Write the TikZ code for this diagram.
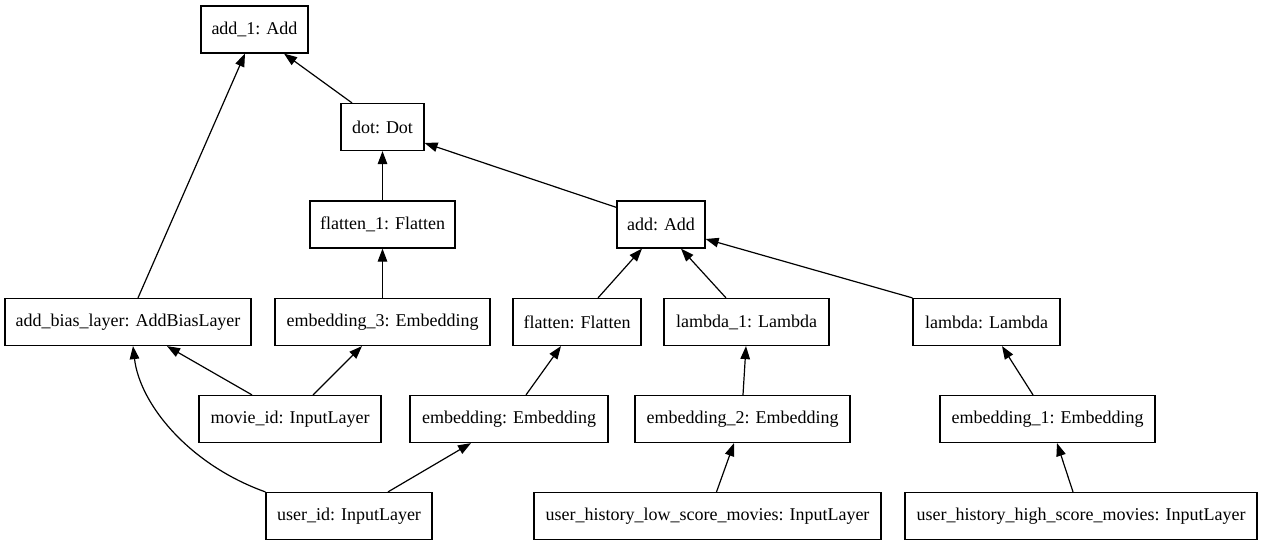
\documentclass[tikz,border=0pt]{standalone}
\usepackage{fontspec}
\setmainfont{Liberation Serif}
\usetikzlibrary{arrows.meta}
\tikzset{
  layer/.style={draw, line width=1.2pt, inner sep=0pt, minimum height=47pt, font=\fontsize{18}{21}\selectfont},
  arr/.style={line width=1.2pt, -{Triangle[length=13pt,width=9.5pt]}}
}
\begin{document}
\begin{tikzpicture}[x=1pt,y=-1pt]
\useasboundingbox (0,0) rectangle (1262,547);
\node[layer, minimum width=107pt] (add1) at (254.5,29.5) {add\_1: Add};
\node[layer, minimum width=83pt] (dot) at (382.5,127) {dot: Dot};
\node[layer, minimum width=145pt] (flatten1) at (382.5,224.5) {flatten\_1: Flatten};
\node[layer, minimum width=88pt] (add) at (661,224.5) {add: Add};
\node[layer, minimum width=246pt] (addbias) at (128,322) {add\_bias\_layer: AddBiasLayer};
\node[layer, minimum width=215pt] (emb3) at (382.5,322) {embedding\_3: Embedding};
\node[layer, minimum width=128pt] (flatten) at (577,322) {flatten: Flatten};
\node[layer, minimum width=165pt] (lambda1) at (746.5,322) {lambda\_1: Lambda};
\node[layer, minimum width=147pt] (lambda) at (986.5,322) {lambda: Lambda};
\node[layer, minimum width=182pt] (movie) at (290,419) {movie\_id: InputLayer};
\node[layer, minimum width=198pt] (emb) at (509,419) {embedding: Embedding};
\node[layer, minimum width=215pt] (emb2) at (742.5,419) {embedding\_2: Embedding};
\node[layer, minimum width=215pt] (emb1) at (1047.5,419) {embedding\_1: Embedding};
\node[layer, minimum width=166pt] (user) at (349,516) {user\_id: InputLayer};
\node[layer, minimum width=347pt] (low) at (707.5,516) {user\_history\_low\_score\_movies: InputLayer};
\node[layer, minimum width=352pt] (high) at (1081,516) {user\_history\_high\_score\_movies: InputLayer};

\draw[arr] ([xshift=-30.5pt]dot.north) -- ([xshift=29.5pt]add1.south);
\draw[arr] ([xshift=10pt]addbias.north) -- ([xshift=-9.5pt]add1.south);
\draw[arr] (flatten1.north) -- (dot.south);
\draw[arr] ([yshift=-7pt]add.north west) -- ([yshift=-16pt]dot.east);
\draw[arr] (emb3.north) -- (flatten1.south);
\draw[arr] ([xshift=21pt]flatten.north) -- ([xshift=-19pt]add.south);
\draw[arr] ([xshift=-20.5pt]lambda1.north) -- ([xshift=20pt]add.south);
\draw[arr] (lambda.north west) -- ([yshift=-14.5pt]add.east);
\draw[arr] ([xshift=-38pt]movie.north) -- ([xshift=39pt]addbias.south);
\draw[arr] ([xshift=23pt]movie.north) -- ([xshift=-20.5pt]emb3.south);
\draw[arr] (user.north west) .. controls (190,465) and (140,405) .. ([xshift=5pt]addbias.south);
\draw[arr] ([xshift=39pt]user.north) -- ([xshift=-38pt]emb.south);
\draw[arr] ([xshift=17pt]emb.north) -- ([xshift=-16pt]flatten.south);
\draw[arr] ([xshift=0.5pt]emb2.north) -- ([xshift=-0.5pt]lambda1.south);
\draw[arr] ([xshift=9pt]low.north) -- ([xshift=-8.5pt]emb2.south);
\draw[arr] ([xshift=-14.5pt]emb1.north) -- ([xshift=15.5pt]lambda.south);
\draw[arr] ([xshift=-8pt]high.north) -- ([xshift=9.5pt]emb1.south);
\end{tikzpicture}
\end{document}
